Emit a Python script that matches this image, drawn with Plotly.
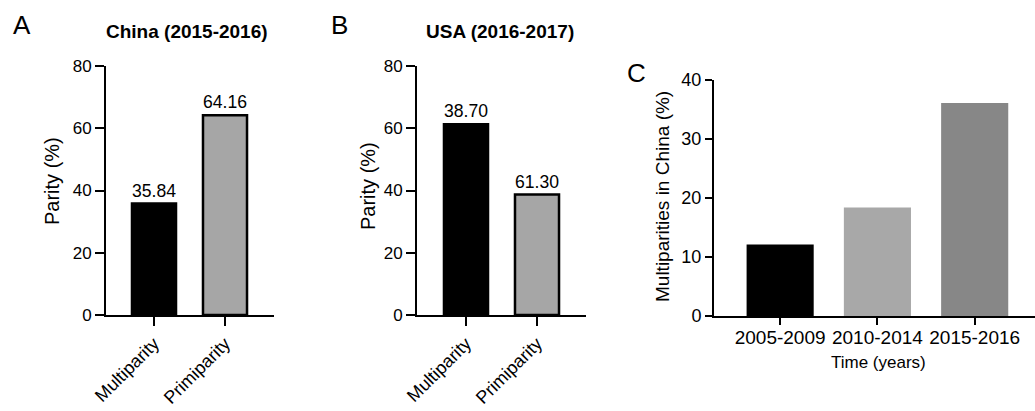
import plotly.graph_objects as go

# ---- data ----
parity_categories = ["Multiparity", "Primiparity"]
china_values = [35.84, 64.16]
china_labels = ["35.84", "64.16"]
usa_values = [61.30, 38.70]
usa_labels = ["38.70", "61.30"]
period_categories = ["2005-2009", "2010-2014", "2015-2016"]
multiparity_china = [12.1, 18.4, 36.1]

W, H = 1035, 411
FONT = "Liberation Sans, Arial, Helvetica, sans-serif"


def fx(x):
    return x / W


def fy(y):
    return 1 - y / H


fig = go.Figure()

fig.add_trace(go.Bar(
    x=parity_categories, y=china_values, text=china_labels,
    textposition="outside", textfont=dict(size=18, color="black", family=FONT),
    marker=dict(color=["#000000", "#a6a6a6"], line=dict(color="black", width=2.5)),
    width=0.62, xaxis="x", yaxis="y", cliponaxis=False, showlegend=False,
))
fig.add_trace(go.Bar(
    x=parity_categories, y=usa_values, text=usa_labels,
    textposition="outside", textfont=dict(size=18, color="black", family=FONT),
    marker=dict(color=["#000000", "#a6a6a6"], line=dict(color="black", width=2.5)),
    width=0.62, xaxis="x2", yaxis="y2", cliponaxis=False, showlegend=False,
))
fig.add_trace(go.Bar(
    x=period_categories, y=multiparity_china,
    marker=dict(color=["#000000", "#a8a8a8", "#878787"], line=dict(width=0)),
    width=0.69, xaxis="x3", yaxis="y3", showlegend=False,
))

common_x = dict(showline=True, linecolor="black", linewidth=2, ticks="outside",
                ticklen=9, tickwidth=2, tickcolor="black", showgrid=False,
                zeroline=False, automargin=False,
                tickfont=dict(size=18, color="black", family=FONT))
common_y = dict(showline=True, linecolor="black", linewidth=2, ticks="outside",
                ticklen=9, tickwidth=2, tickcolor="black", showgrid=False,
                zeroline=False, automargin=False,
                tickfont=dict(size=17, color="black", family=FONT))

fig.update_layout(
    template="none",
    width=W, height=H,
    margin=dict(l=0, r=0, t=0, b=0, pad=0),
    paper_bgcolor="white", plot_bgcolor="white",
    font=dict(family=FONT, color="black"),
    xaxis=dict(common_x, domain=[fx(106), fx(274)], range=[-0.676, 1.69],
               tickangle=-45, anchor="y"),
    yaxis=dict(common_y, domain=[fy(315), fy(66)], range=[0, 80], dtick=20,
               anchor="x"),
    xaxis2=dict(common_x, domain=[fx(417), fx(586)], range=[-0.69, 1.69],
                tickangle=-45, anchor="y2"),
    yaxis2=dict(common_y, domain=[fy(315), fy(66)], range=[0, 80], dtick=20,
                anchor="x2"),
    xaxis3=dict(common_x, domain=[fx(714), 1.0], range=[-0.68, 2.62],
                tickangle=0, ticklen=7, anchor="y3", ticklabelstandoff=-4,
                tickfont=dict(size=19, color="black", family=FONT)),
    yaxis3=dict(common_y, domain=[fy(316), fy(80)], range=[0, 40], dtick=10,
                ticklen=7, anchor="x3",
                tickfont=dict(size=18, color="black", family=FONT)),
)

ann = []


def add_text(x, y, text, size, bold=False, angle=0):
    ann.append(dict(
        x=fx(x), y=fy(y), xref="paper", yref="paper", text=text,
        showarrow=False, xanchor="center", yanchor="middle", textangle=angle,
        font=dict(size=size, color="black", family=FONT,
                  weight="bold" if bold else "normal"),
    ))


add_text(22, 25, "A", 26)
add_text(339, 25, "B", 26)
add_text(636, 73, "C", 26)
add_text(187, 31, "China (2015-2016)", 19, bold=True)
add_text(500, 31, "USA (2016-2017)", 19, bold=True)
add_text(52, 181, "Parity (%)", 20, angle=-90)
add_text(368, 186, "Parity (%)", 20, angle=-90)
add_text(662, 197, "Multiparities in China (%)", 19, angle=-90)
add_text(878, 362, "Time (years)", 17)

fig.update_layout(annotations=ann)

fig.write_html("out.html", config={"displayModeBar": False},
               post_script="document.body.style.margin='0';")
